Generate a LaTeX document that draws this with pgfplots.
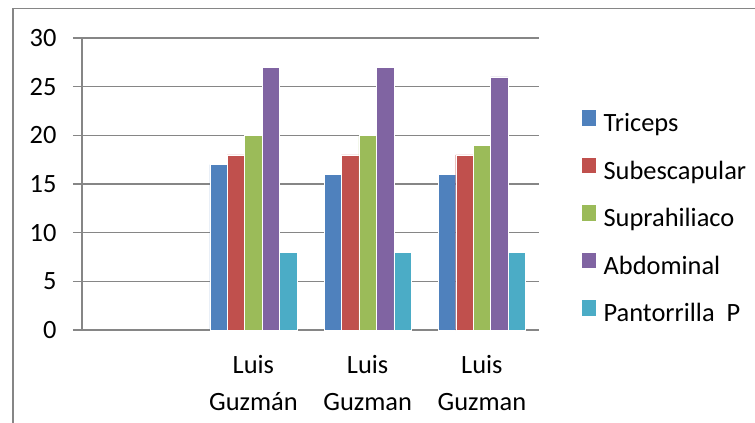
\documentclass[border=0pt]{standalone}
\usepackage{fontspec}
\setmainfont{Carlito}
\usepackage{pgfplots}
\pgfplotsset{compat=1.18}
\definecolor{sTri}{HTML}{4F81BD}
\definecolor{sSub}{HTML}{C0504D}
\definecolor{sSup}{HTML}{9BBB59}
\definecolor{sAbd}{HTML}{8064A2}
\definecolor{sPan}{HTML}{4BACC6}
\definecolor{axgray}{HTML}{868686}

\begin{document}
\begin{tikzpicture}
\useasboundingbox (0,0) rectangle (755bp,-423bp);
% chart frame (cropped on right and bottom)
\draw[axgray, line width=1.5bp] (13bp,-423bp) -- (13bp,-8.5bp) -- (755bp,-8.5bp);

\begin{axis}[
    at={(82bp,-330bp)}, anchor=south west,
    scale only axis,
    width=457bp, height=292bp,
    ybar=0pt, bar width=0.1526,
    xmin=-0.5, xmax=3.5,
    ymin=0, ymax=30,
    ytick={0,5,...,30},
    xtick={0,1,2,3},
    xticklabels={,{Luis\\Guzmán},{Luis\\Guzman},{Luis\\Guzman}},
    extra x ticks={-0.5,0.5,1.5,2.5,3.5},
    extra x tick labels={},
    extra x tick style={major tick length=9bp, tick style={axgray, line width=1.5bp}},
    major x tick style={draw=none},
    tick align=outside,
    major tick length=9bp,
    tick style={axgray, line width=1.5bp},
    axis x line*=bottom, axis y line*=left,
    axis line style={axgray, line width=1.5bp, -},
    ymajorgrids, grid style={axgray, line width=1.5bp},
    font=\fontsize{26.5}{37}\selectfont,
    xticklabel style={align=center, font=\fontsize{26.5}{37}\selectfont, yshift=-13bp},
    yticklabel style={xshift=-13bp},
    /pgf/number format/assume math mode=true,
    every axis plot/.append style={draw=white, line width=0.4bp},
    legend cell align=left,
    legend style={draw=none, fill=none, at={(499.5bp,220bp)}, anchor=north west,
        font=\fontsize{26.5}{30}\selectfont, row sep=20bp,
        inner sep=0pt, nodes={inner sep=0pt, text height=18bp, text depth=6bp}},
    legend image code/.code={\fill[#1, draw=none] (0bp,0bp) rectangle (14.5bp,15.5bp);
        \path (0bp,0bp) (21.5bp,0bp);},
]
\addplot[fill=sTri] coordinates {(1,17) (2,16) (3,16)};
\addlegendentry{Triceps}
\addplot[fill=sSub] coordinates {(1,18) (2,18) (3,18)};
\addlegendentry{Subescapular}
\addplot[fill=sSup] coordinates {(1,20) (2,20) (3,19)};
\addlegendentry{Suprahiliaco}
\addplot[fill=sAbd] coordinates {(1,27) (2,27) (3,26)};
\addlegendentry{Abdominal}
\addplot[fill=sPan] coordinates {(1,8) (2,8) (3,8)};
\addlegendentry{Pantorrilla\ \ P}
\end{axis}
\end{tikzpicture}
\end{document}
